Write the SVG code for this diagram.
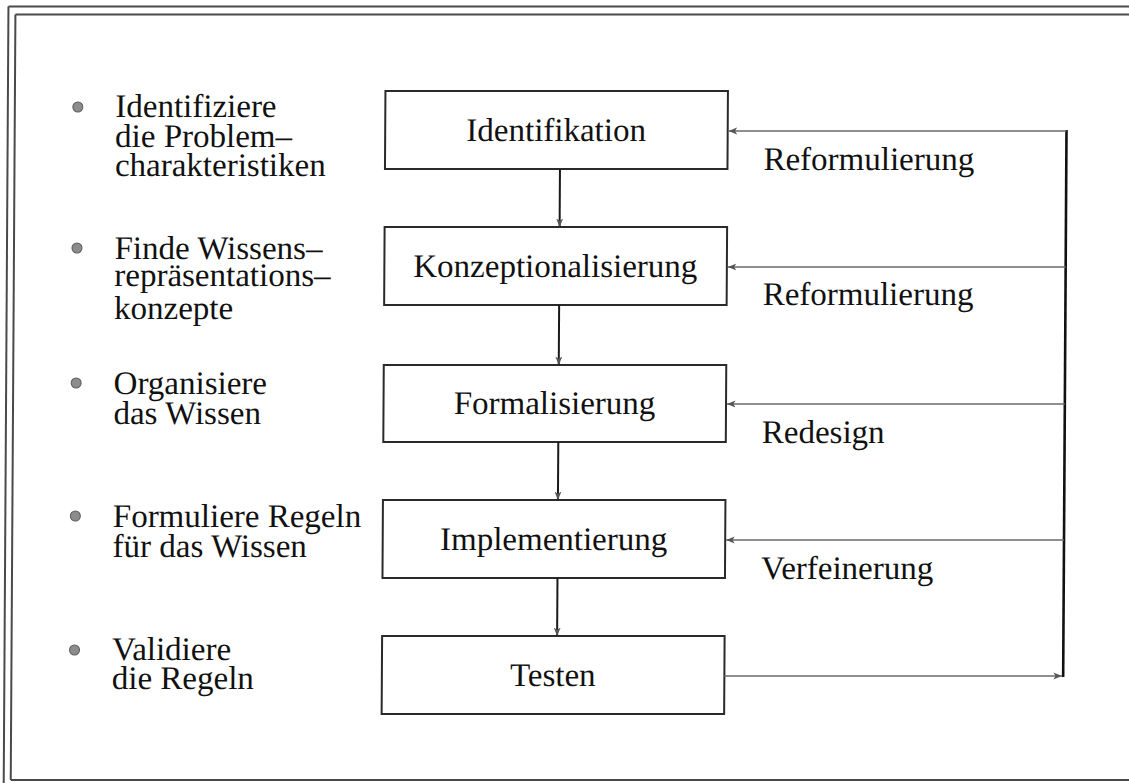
<svg xmlns="http://www.w3.org/2000/svg" width="1129" height="783" viewBox="0 0 1129 783">
  <defs>
    <style>
      .frame { stroke: #4a4a4a; stroke-width: 2; fill: none; }
      .box { fill: #ffffff; stroke: #2a2a2a; stroke-width: 2; }
      .title { font-family: "Liberation Serif", "Times New Roman", serif; font-size: 33px; fill: #111; text-anchor: middle; }
      .note { font-family: "Liberation Serif", "Times New Roman", serif; font-size: 33px; fill: #111; }
      .flow { stroke: #1a1a1a; stroke-width: 2; fill: none; }
      .back { stroke: #6a6a6a; stroke-width: 1.6; fill: none; }
      .spine { stroke: #111; stroke-width: 2.6; fill: none; }
      .dot { fill: #8c8c8c; stroke: #5a5a5a; stroke-width: 1; }
    </style>
    <marker id="head" viewBox="0 0 9 8" refX="8.5" refY="4" markerWidth="9" markerHeight="8" markerUnits="userSpaceOnUse" orient="auto">
      <path d="M0,0.5 L8.5,4 L0,7.5 L2.2,4 Z" fill="#555"/>
    </marker>
  </defs>

  <g transform="skewX(-0.35)">
    <!-- page frame: double rule on top and left, single rule at the bottom -->
    <g id="frame">
      <line class="frame" x1="8.5" y1="6.5" x2="1135" y2="6.5"/>
      <line class="frame" x1="15.5" y1="14.5" x2="1135" y2="14.5"/>
      <line class="frame" x1="8.5" y1="6.5" x2="8.5" y2="790"/>
      <line class="frame" x1="15.5" y1="14.5" x2="15.5" y2="780"/>
      <line class="frame" x1="15.5" y1="780" x2="1135" y2="780"/>
    </g>

    <!-- task list on the left -->
    <g id="task-1">
      <circle class="dot" cx="78.5" cy="107" r="5"/>
      <text class="note" x="116" y="117">Identifiziere</text>
      <text class="note" x="116" y="147">die Problem–</text>
      <text class="note" x="116" y="176">charakteristiken</text>
    </g>
    <g id="task-2">
      <circle class="dot" cx="78.5" cy="248" r="5"/>
      <text class="note" x="116" y="259">Finde Wissens–</text>
      <text class="note" x="116" y="286">repräsentations–</text>
      <text class="note" x="116" y="319">konzepte</text>
    </g>
    <g id="task-3">
      <circle class="dot" cx="78.5" cy="383" r="5"/>
      <text class="note" x="116" y="394">Organisiere</text>
      <text class="note" x="116" y="424">das Wissen</text>
    </g>
    <g id="task-4">
      <circle class="dot" cx="78.5" cy="516" r="5"/>
      <text class="note" x="116" y="527">Formuliere Regeln</text>
      <text class="note" x="116" y="557">für das Wissen</text>
    </g>
    <g id="task-5">
      <circle class="dot" cx="78.5" cy="650" r="5"/>
      <text class="note" x="116" y="660">Validiere</text>
      <text class="note" x="116" y="689">die Regeln</text>
    </g>

    <!-- phase boxes -->
    <g id="identifikation">
      <rect class="box" x="386" y="91" width="342.5" height="78"/>
      <text class="title" x="557" y="141">Identifikation</text>
    </g>
    <g id="konzeptionalisierung">
      <rect class="box" x="386" y="227" width="342.5" height="78"/>
      <text class="title" x="557" y="277">Konzeptionalisierung</text>
    </g>
    <g id="formalisierung">
      <rect class="box" x="386" y="365" width="342.5" height="77"/>
      <text class="title" x="557" y="414">Formalisierung</text>
    </g>
    <g id="implementierung">
      <rect class="box" x="386" y="500" width="342.5" height="78"/>
      <text class="title" x="557" y="550">Implementierung</text>
    </g>
    <g id="testen">
      <rect class="box" x="386" y="636" width="342.5" height="78"/>
      <text class="title" x="557" y="686">Testen</text>
    </g>

    <!-- feedback labels -->
    <g id="labels">
      <text class="note" x="764.5" y="170">Reformulierung</text>
      <text class="note" x="764.5" y="305">Reformulierung</text>
      <text class="note" x="764.5" y="443">Redesign</text>
      <text class="note" x="764.5" y="579">Verfeinerung</text>
    </g>

    <!-- connectors -->
    <g id="connectors">
      <line class="flow" x1="561" y1="169" x2="561" y2="227" marker-end="url(#head)"/>
      <line class="flow" x1="561" y1="305" x2="561" y2="365" marker-end="url(#head)"/>
      <line class="flow" x1="561" y1="442" x2="561" y2="500" marker-end="url(#head)"/>
      <line class="flow" x1="561" y1="578" x2="561" y2="636" marker-end="url(#head)"/>

      <line class="back" x1="728.5" y1="676" x2="1066" y2="676" marker-end="url(#head)"/>
      <line class="spine" x1="1067.3" y1="677" x2="1067.3" y2="130"/>
      <line class="back" x1="1067.3" y1="131" x2="729.5" y2="131" marker-end="url(#head)"/>
      <line class="back" x1="1067.3" y1="267" x2="729.5" y2="267" marker-end="url(#head)"/>
      <line class="back" x1="1067.3" y1="404" x2="729.5" y2="404" marker-end="url(#head)"/>
      <line class="back" x1="1067.3" y1="540" x2="729.5" y2="540" marker-end="url(#head)"/>
    </g>
  </g>
</svg>
